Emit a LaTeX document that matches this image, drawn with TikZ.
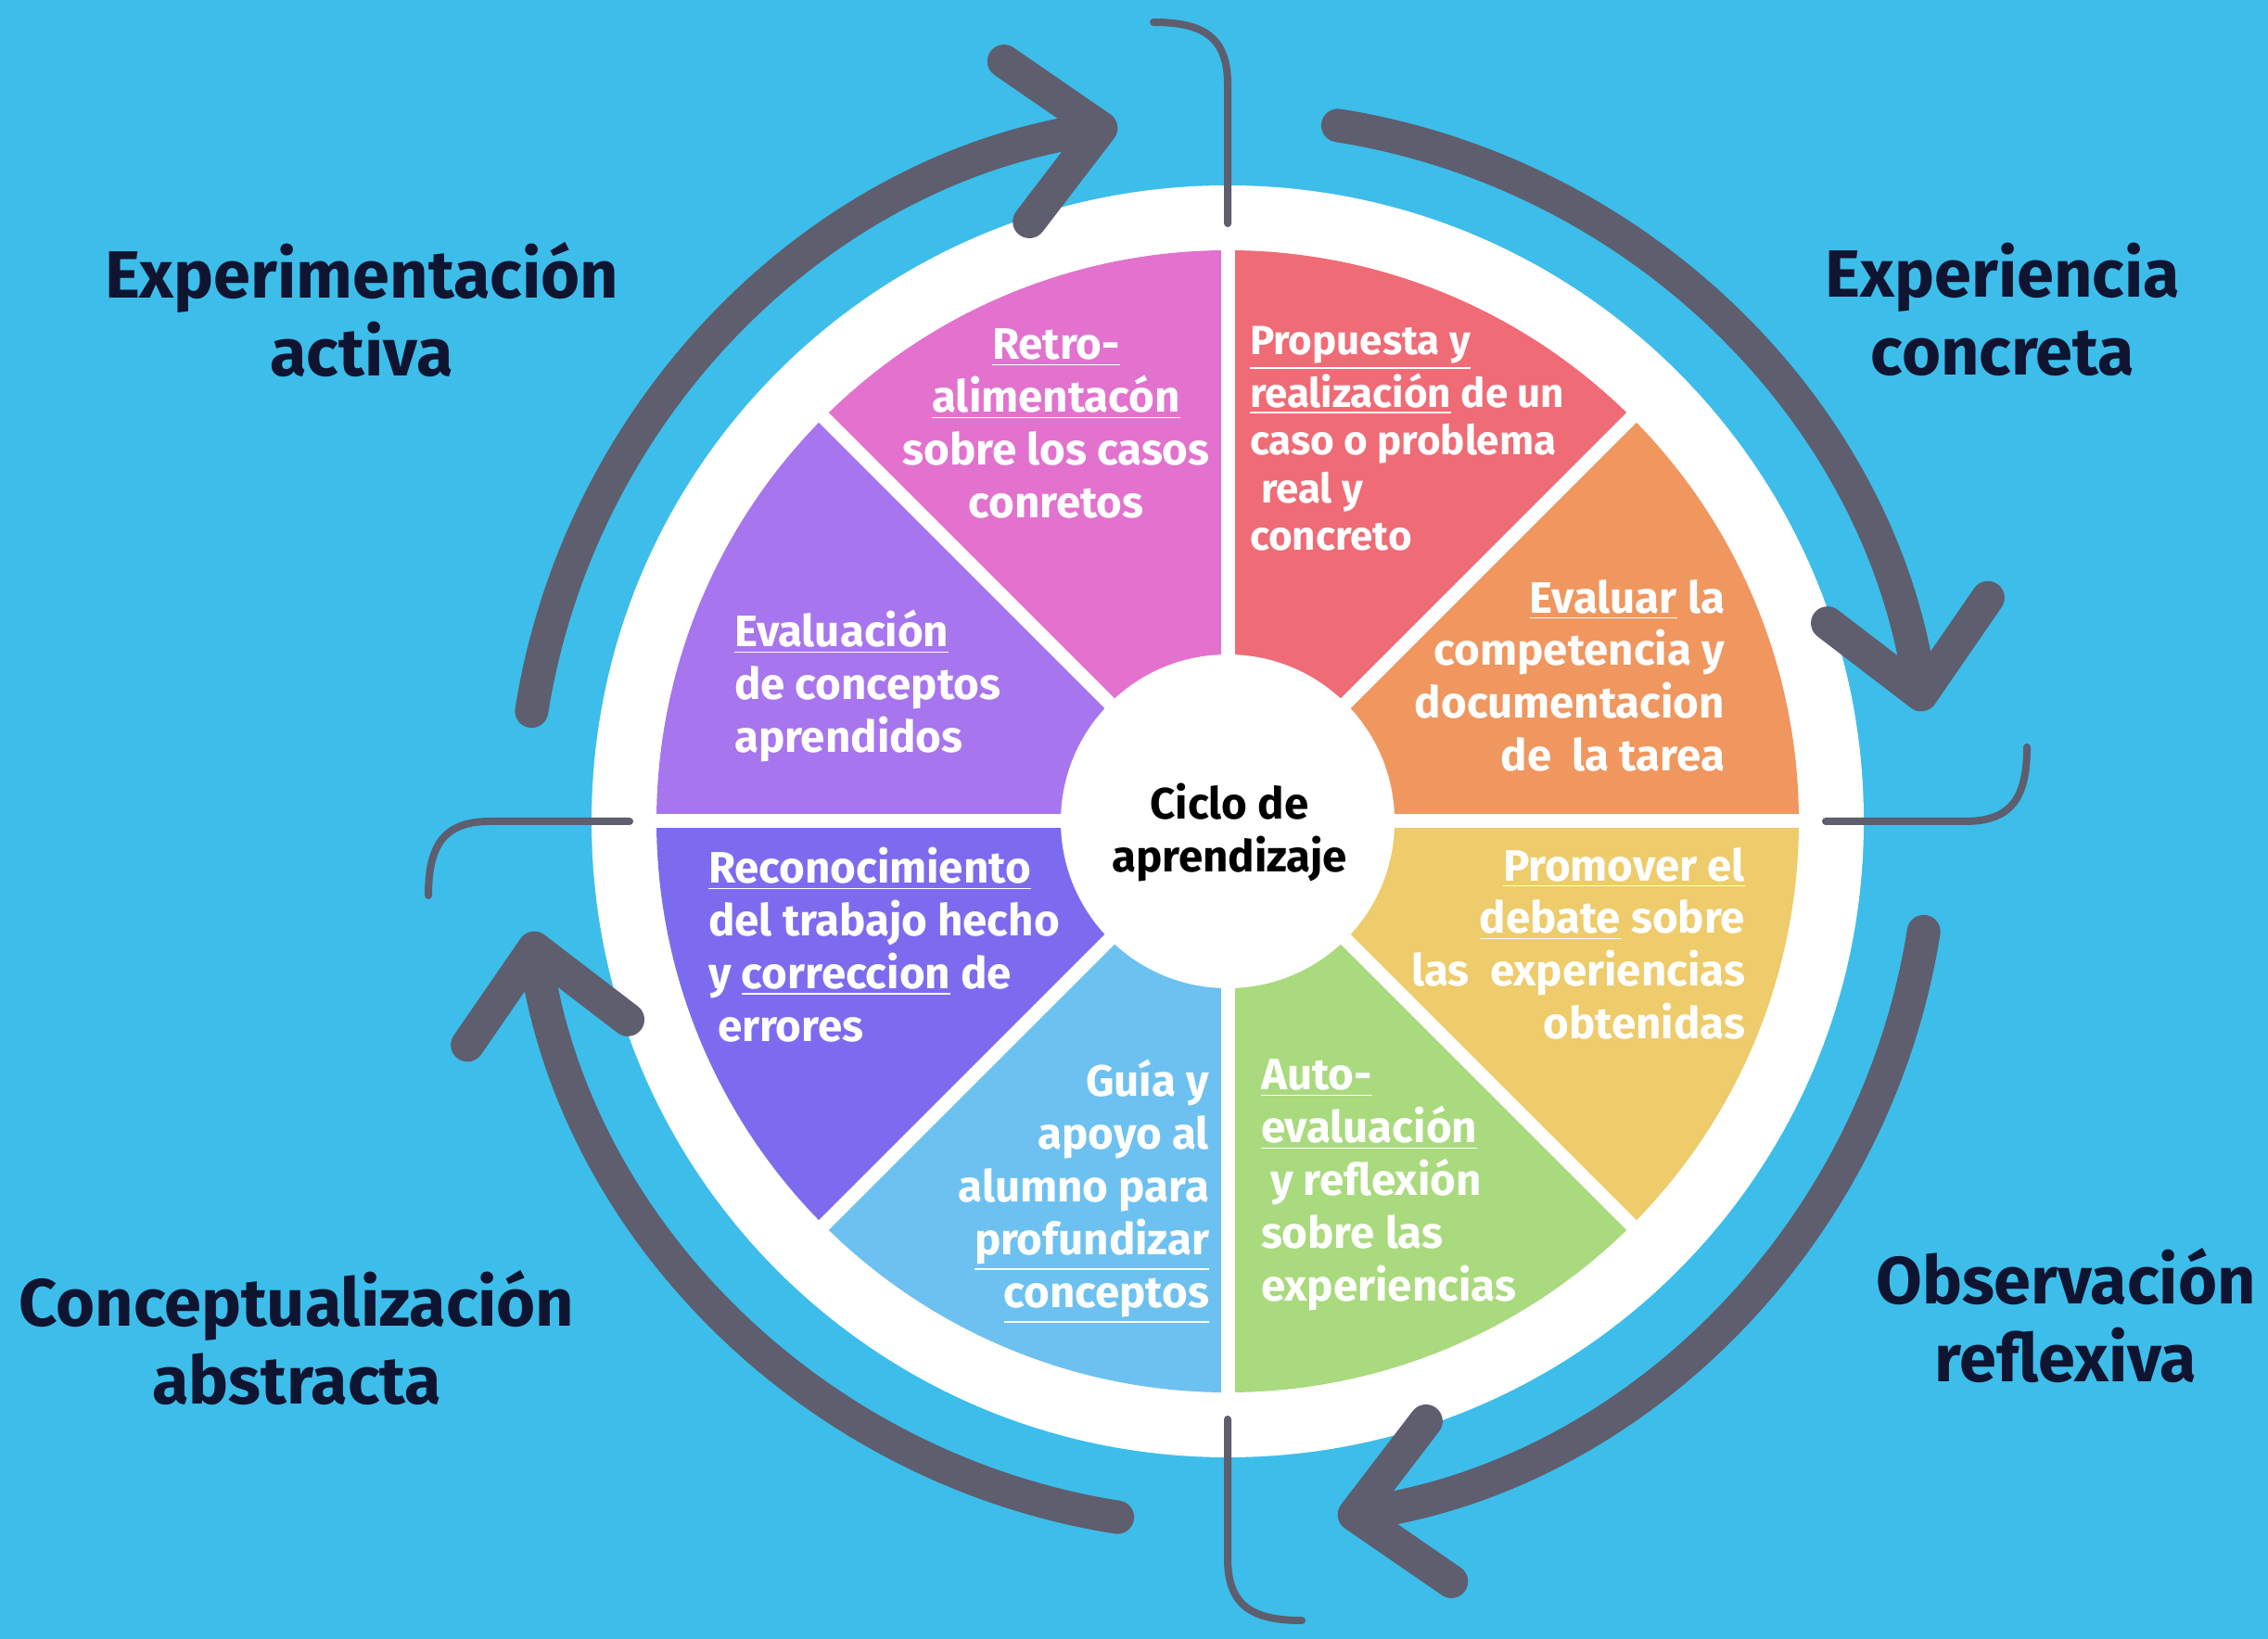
\documentclass[tikz,border=0pt]{standalone}
\usepackage{fontspec}
\setmainfont{Fira Sans}
\usetikzlibrary{arrows.meta}

\definecolor{bgblue}{HTML}{3DBDEA}
\definecolor{arrowgray}{HTML}{5E5E6E}
\definecolor{labelink}{HTML}{0F1430}
\definecolor{wedgered}{HTML}{EF6B75}
\definecolor{wedgeorange}{HTML}{F0965F}
\definecolor{wedgeyellow}{HTML}{EECB6B}
\definecolor{wedgegreen}{HTML}{A9DA7D}
\definecolor{wedgelightblue}{HTML}{6DC1F0}
\definecolor{wedgeindigo}{HTML}{7D6BEF}
\definecolor{wedgepurple}{HTML}{A775EE}
\definecolor{wedgepink}{HTML}{E272CE}

\begin{document}
\begin{tikzpicture}[x=1cm, y=-1cm, outer sep=0pt]

\tikzstyle{wedgetext}=[text=white, inner sep=0pt, font=\bfseries\fontsize{13.5}{16.2}\selectfont]
\tikzstyle{phase}=[text=labelink, align=center, inner sep=0pt, font=\bfseries\fontsize{20.5}{24}\selectfont]
\tikzstyle{cyclearrow}=[draw=arrowgray, line width=0.36cm, line cap=round, -{Straight Barb[length=0.92cm, width=1.75cm, round]}]
\tikzstyle{hook}=[draw=arrowgray, line width=0.08cm, line cap=round]

\fill[bgblue] (0,0) rectangle (24.46,17.68);
\useasboundingbox (0,0) rectangle (24.46,17.68);

\coordinate (c) at (13.24,8.86);
\fill[white] (c) circle (6.86);

% eight wedges, clockwise from the right
\foreach \col [count=\i] in {wedgeyellow, wedgegreen, wedgelightblue, wedgeindigo, wedgepurple, wedgepink, wedgered, wedgeorange}
  \fill[\col] (c) -- ++({(\i-1)*45}:6.16) arc[start angle={(\i-1)*45}, end angle={\i*45}, radius=6.16] -- cycle;
\foreach \a in {0,45,...,315}
  \draw[white, line width=0.15cm] (c) -- ++(\a:6.3);

\node[circle, fill=white, minimum size=3.6cm, inner sep=0pt] (hub) at (c) {};
\node[align=center, text=black, inner sep=0pt, font=\bfseries\fontsize{13.5}{16}\selectfont] (ciclo) at (13.26,8.98) {Ciclo de\\aprendizaje};

% cycle arrows and hooks
\foreach \b in {0,90,180,270}
  \draw[cyclearrow, shift={(c)}] (\b+9:7.6) arc[start angle=\b+9, end angle=\b+81, radius=7.6];
\foreach \r in {0,90,180,270}
  \draw[hook, shift={(c)}, rotate=\r] (6.45,0) -- (7.95,0) .. controls (8.45,0) and (8.62,-0.25) .. (8.62,-0.8);

\node[wedgetext, align=center, anchor=north] (retro) at (11.39,3.55) {\underline{Retro-}\\\underline{alimentacón}\\sobre los casos\\conretos};
\node[wedgetext, align=left, anchor=north west, font=\bfseries\fontsize{12.5}{14.6}\selectfont] (propuesta) at (13.48,3.52) {\underline{Propuesta y}\\\underline{realización} de un\\caso o problema\\\hspace{0.12cm}real y\\concreto};
\node[wedgetext, align=right, anchor=north east] (evaluar) at (18.60,6.25) {\underline{Evaluar} la\\competencia y\\documentacion\\de\ \ la tarea};
\node[wedgetext, align=right, anchor=north east] (promover) at (18.82,9.14) {\underline{Promover el}\\\underline{debate} sobre\\las\ \ experiencias\\obtenidas};
\node[wedgetext, align=left, anchor=north west] (autoeval) at (13.60,11.43) {\underline{Auto-}\\\underline{evaluación}\\\hspace{0.1cm}y reflexión\\sobre las\\experiencias};
\node[wedgetext, align=right, anchor=north east] (guia) at (13.04,11.43) {Guía y\\apoyo al\\alumno para\\\underline{profundizar}\\\underline{conceptos}};
\node[wedgetext, align=left, anchor=north west] (reconoc) at (7.64,9.14) {\underline{Reconocimiento}\\del trabajo hecho\\y \underline{correccion} de\\\hspace{0.1cm}errores};
\node[wedgetext, align=left, anchor=north west] (evalconc) at (7.92,6.58) {\underline{Evaluación}\\de conceptos\\aprendidos};

\node[phase] (activa) at (3.90,3.34) {Experimentación\\activa};
\node[phase] (concreta) at (21.60,3.34) {Experiencia\\concreta};
\node[phase] (reflexiva) at (22.28,14.19) {Observación\\reflexiva};
\node[phase] (abstracta) at (3.20,14.43) {Conceptualización\\abstracta};

\end{tikzpicture}
\end{document}
